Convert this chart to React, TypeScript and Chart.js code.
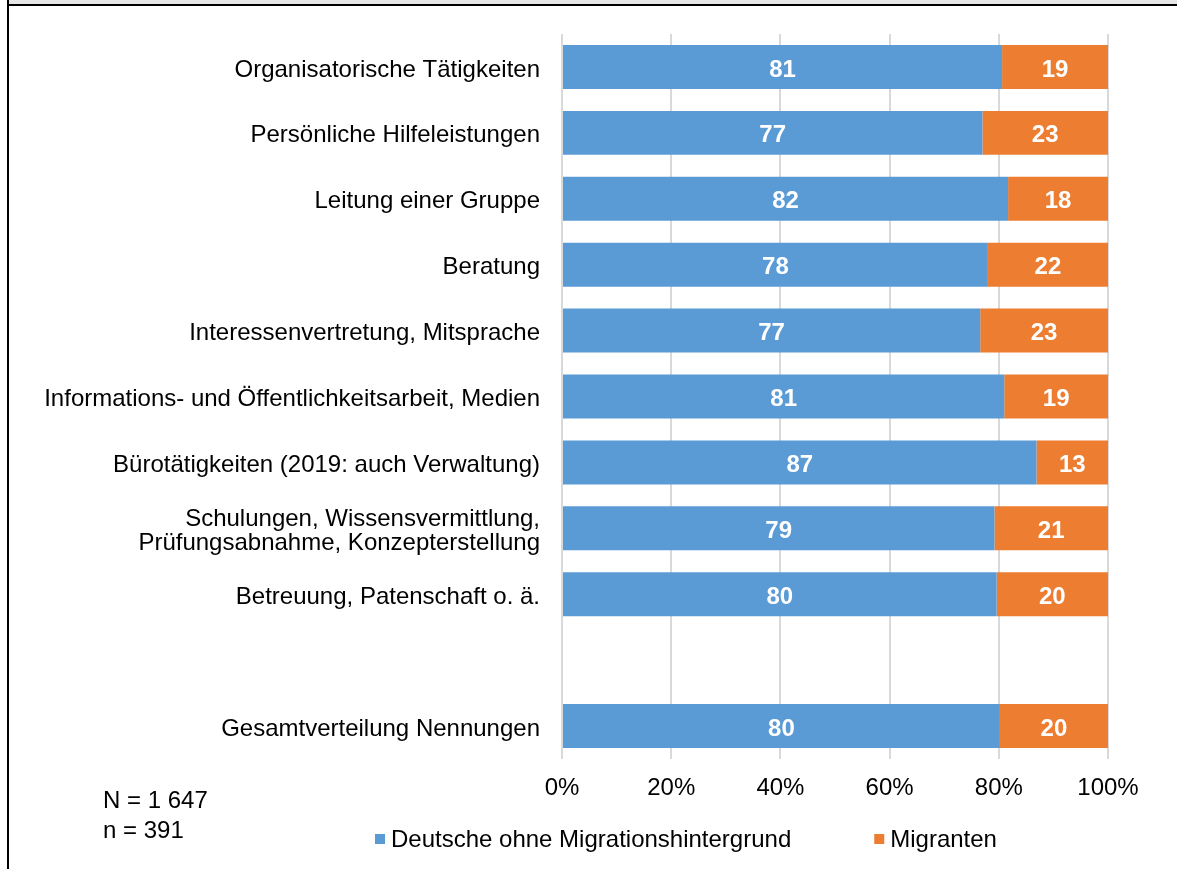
import React, { useEffect, useRef } from "react";
import { Chart, registerables } from "chart.js";

Chart.register(...registerables);

const categories: (string | string[])[] = [
  "Organisatorische Tätigkeiten",
  "Persönliche Hilfeleistungen",
  "Leitung einer Gruppe",
  "Beratung",
  "Interessenvertretung, Mitsprache",
  "Informations- und Öffentlichkeitsarbeit, Medien",
  "Bürotätigkeiten (2019: auch Verwaltung)",
  ["Schulungen, Wissensvermittlung,", "Prüfungsabnahme, Konzepterstellung"],
  "Betreuung, Patenschaft o. ä.",
  "",
  "Gesamtverteilung Nennungen",
];

const germanValues: (number | null)[] = [80.6, 77.0, 81.7, 78.0, 76.6, 81.0, 86.9, 79.2, 79.6, null, 80.2];
const migrantValues: (number | null)[] = [19.4, 23.0, 18.3, 22.0, 23.4, 19.0, 13.1, 20.8, 20.4, null, 19.8];

const xTickLabels = ["0%", "20%", "40%", "60%", "80%", "100%"];
const seriesNames = ["Deutsche ohne Migrationshintergrund", "Migranten"];
const seriesColors = ["#5b9bd5", "#ed7d31"];
const footnoteLines = ["N = 1 647", "n = 391"];

const FONT = "'Liberation Sans', Arial, sans-serif";
const FS = 24;

const dataLabelPlugin = {
  id: "dataLabels",
  afterDatasetsDraw(chart: any) {
    const ctx = chart.ctx;
    ctx.save();
    ctx.font = `bold ${FS}px ${FONT}`;
    ctx.fillStyle = "#ffffff";
    ctx.textAlign = "center";
    ctx.textBaseline = "middle";
    chart.data.datasets.forEach((ds: any, di: number) => {
      const meta = chart.getDatasetMeta(di);
      meta.data.forEach((el: any, i: number) => {
        const v = ds.data[i];
        if (v === null || v === undefined) return;
        const cx = (el.x + el.base) / 2;
        ctx.fillText(String(Math.round(v)), cx, el.y + 3);
      });
    });
    ctx.restore();
  },
};

const legendPlugin = {
  id: "customLegend",
  afterDraw(chart: any) {
    const ctx = chart.ctx;
    ctx.save();
    ctx.font = `${FS}px ${FONT}`;
    ctx.textBaseline = "middle";
    ctx.textAlign = "left";
    let x = 375;
    const cy = 839;
    chart.data.datasets.forEach((ds: any) => {
      ctx.fillStyle = ds.backgroundColor;
      ctx.fillRect(x, cy - 5, 10, 10);
      ctx.fillStyle = "#000000";
      ctx.fillText(ds.label, x + 16, cy + 1);
      const w = ctx.measureText(ds.label).width;
      x += 16 + w + 83;
    });
    ctx.restore();
  },
};

function App() {
  const canvasRef = useRef<HTMLCanvasElement | null>(null);

  useEffect(() => {
    if (!canvasRef.current) return;
    Chart.defaults.font.family = FONT;
    const chart = new Chart(canvasRef.current, {
      type: "bar",
      data: {
        labels: categories,
        datasets: [
          {
            label: seriesNames[0],
            data: germanValues,
            backgroundColor: seriesColors[0],
            borderWidth: 0,
            barPercentage: 0.667,
            categoryPercentage: 1,
          },
          {
            label: seriesNames[1],
            data: migrantValues,
            backgroundColor: seriesColors[1],
            borderWidth: 0,
            barPercentage: 0.667,
            categoryPercentage: 1,
          },
        ],
      },
      options: {
        indexAxis: "y",
        animation: false,
        responsive: false,
        devicePixelRatio: 1,
        layout: { padding: { left: 0, right: 69, top: 34, bottom: 60 } },
        plugins: {
          legend: { display: false },
          tooltip: { enabled: false },
        },
        scales: {
          x: {
            stacked: true,
            min: 0,
            max: 100,
            ticks: {
              stepSize: 20,
              color: "#000000",
              font: { size: FS, family: FONT },
              padding: 15,
              callback: (_v: any, i: number) => xTickLabels[i],
            },
            grid: { color: "#d9d9d9", lineWidth: 2, drawTicks: false },
            border: { display: false },
            afterFit: (s: any) => {
              s.height = 50;
            },
          },
          y: {
            stacked: true,
            ticks: {
              color: "#000000",
              font: { size: FS, family: FONT, lineHeight: 1.0 },
              padding: 22,
              labelOffset: 3,
            },
            grid: { display: false, drawTicks: false },
            border: { display: false },
            afterFit: (s: any) => {
              s.width = 562;
            },
          },
        },
      },
      plugins: [dataLabelPlugin, legendPlugin],
    });
    return () => chart.destroy();
  }, []);

  return (
    <div style={{ position: "fixed", left: 0, top: 0, width: 1177, height: 869, background: "#ffffff", overflow: "hidden" }}>
      <canvas ref={canvasRef} width={1177} height={869} style={{ position: "absolute", left: 0, top: 0, display: "block" }} />
      <div style={{ position: "absolute", left: 9, top: 0, width: 1168, height: 4, background: "#e6e6e6" }} />
      <div style={{ position: "absolute", left: 7, top: 4, width: 1170, height: 2, background: "#000000" }} />
      <div style={{ position: "absolute", left: 7, top: 0, width: 2, height: 869, background: "#000000" }} />
      <div
        style={{
          position: "absolute",
          left: 103,
          top: 785,
          fontFamily: FONT,
          fontSize: FS,
          lineHeight: "30px",
          color: "#000000",
          whiteSpace: "pre",
        }}
      >
        {footnoteLines.map((l, i) => (
          <div key={i}>{l}</div>
        ))}
      </div>
    </div>
  );
}

export default App;
